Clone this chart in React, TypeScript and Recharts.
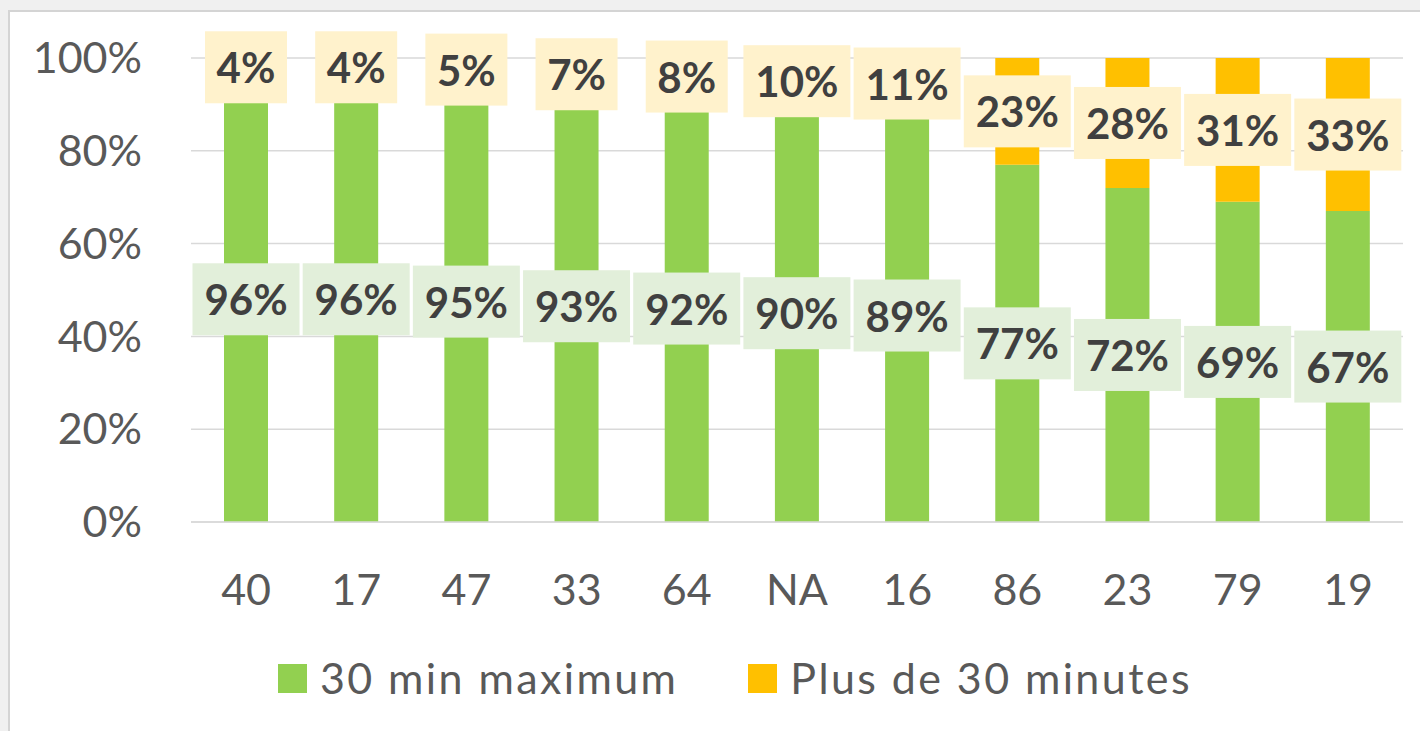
import { BarChart, Bar, XAxis, YAxis, CartesianGrid, Legend, LabelList } from "recharts";

const categories = ["40", "17", "47", "33", "64", "NA", "16", "86", "23", "79", "19"];
const court = [96, 96, 95, 93, 92, 90, 89, 77, 72, 69, 67];
const long = [4, 4, 5, 7, 8, 10, 11, 23, 28, 31, 33];
const yTicks = [0, 20, 40, 60, 80, 100];

const data = categories.map((c, i) => ({ cat: c, court: court[i], long: long[i] }));

const FONT = "Lato, 'Open Sans', sans-serif";

function makeLabel(bg: string) {
  return (props: any) => {
    const { x, y, width, height, value } = props;
    const cx = x + width / 2;
    const cy = y + height / 2;
    const txt = value + "%";
    const w = 32 + 25 * txt.length;
    const h = 72;
    return (
      <g>
        <rect x={cx - w / 2} y={cy - h / 2} width={w} height={h} fill={bg} />
        <text
          x={cx}
          y={cy}
          textAnchor="middle"
          dominantBaseline="central"
          fontFamily={FONT}
          fontWeight={700}
          fontSize={42}
          fill="#404040"
        >
          {txt}
        </text>
      </g>
    );
  };
}

const legendItems = [
  { name: "30 min maximum", color: "#92D050" },
  { name: "Plus de 30 minutes", color: "#FFC000" },
];

function LegendBox() {
  return (
    <div style={{ display: "flex", alignItems: "center", height: 40, fontFamily: FONT }}>
      {legendItems.map((it, i) => (
        <div key={it.name} style={{ display: "flex", alignItems: "center", marginRight: i === 0 ? 70 : 0 }}>
          <div style={{ width: 29, height: 29, background: it.color, marginRight: 13 }} />
          <span style={{ fontSize: 43, color: "#595959", lineHeight: "40px", letterSpacing: 2.4 }}>{it.name}</span>
        </div>
      ))}
    </div>
  );
}

export default function App() {
  return (
    <div style={{ position: "fixed", left: 0, top: 0, width: 1420, height: 731, background: "#F0F0F0" }}>
      <div
        style={{
          position: "absolute",
          left: 8,
          top: 10,
          width: 1420,
          height: 731,
          background: "#fff",
          borderLeft: "2px solid #D4D4D4",
          borderTop: "2px solid #D4D4D4",
        }}
      >
        <BarChart
          width={1410}
          height={719}
          data={data}
          margin={{ top: 46, right: 17, left: 0, bottom: 33 }}
          barSize={44}
        >
          <CartesianGrid vertical={false} stroke="#D9D9D9" strokeWidth={1.5} />
          <XAxis
            dataKey="cat"
            height={136}
            tickLine={false}
            axisLine={{ stroke: "#D9D9D9", strokeWidth: 1.5 }}
            tickSize={0}
            tickMargin={52}
            tick={{ fontSize: 43, fill: "#595959", fontFamily: FONT }}
          />
          <YAxis
            width={181}
            domain={[0, 100]}
            ticks={yTicks}
            tickFormatter={(v: number) => v + "%"}
            axisLine={false}
            tickLine={false}
            tickSize={0}
            tickMargin={49}
            tick={{ fontSize: 43, fill: "#595959", fontFamily: FONT }}
          />
          <Legend
            verticalAlign="bottom"
            content={<LegendBox />}
            wrapperStyle={{ left: 268, width: 1100, height: 40 }}
          />
          <Bar dataKey="court" name="30 min maximum" stackId="a" fill="#92D050" isAnimationActive={false}>
            <LabelList dataKey="court" content={makeLabel("#E2EFDA")} />
          </Bar>
          <Bar dataKey="long" name="Plus de 30 minutes" stackId="a" fill="#FFC000" isAnimationActive={false}>
            <LabelList dataKey="long" content={makeLabel("#FFF2CC")} />
          </Bar>
        </BarChart>
      </div>
    </div>
  );
}
